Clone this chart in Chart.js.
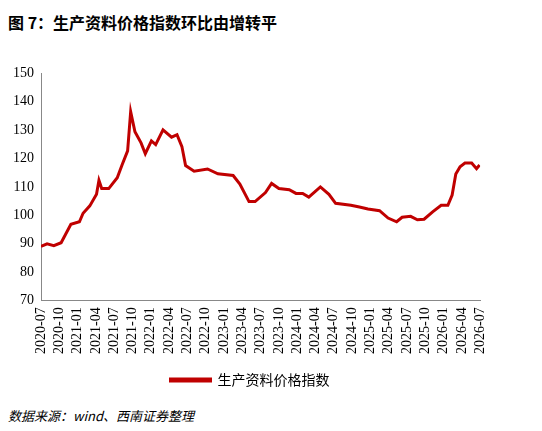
<!DOCTYPE html><html><head><meta charset="utf-8">
<script src="https://cdn.jsdelivr.net/npm/chart.js@4"></script>
<style>body{margin:0;width:542px;height:431px;background:#fff;position:relative;font-family:"Noto Sans CJK SC";}
#t{position:absolute;left:8px;top:10px;font-size:16px;font-weight:bold;}
#s{position:absolute;left:8px;top:406px;font-size:13px;font-style:italic;}
#c{position:absolute;left:0;top:62px;width:500px;height:335px;}</style></head><body>
<div id="t">图 7：生产资料价格指数环比由增转平</div>
<div id="c"><canvas id="cv"></canvas></div>
<div id="s">数据来源：wind、西南证券整理</div>
<script>
const seriesName="生产资料价格指数";
const monthOffsets=[0,1,2.1,3.3,4.9,6.3,6.9,8,9.1,9.5,9.95,11.1,12.5,13.3,14.2,14.7,15.4,16.4,17.1,18.1,18.8,20,21.4,22.3,23.1,23.7,25.1,27.3,29,31.5,32.6,34.1,35.1,36.8,37.8,39,40.7,41.8,42.9,43.9,45.8,47.2,48.3,50.8,52.2,53.6,55.5,56.9,58.3,59.2,60.6,61.7,62.8,64.2,65.6,66.7,67.4,68,68.7,69.5,70.6,71.4,71.9];
const values=[89,89.9,89.3,90.3,96.8,97.7,100.7,103.3,107.4,112.3,109.4,109.4,113.2,117.8,122.7,136.5,129.4,125.5,121.7,126.2,124.9,130.1,127.5,128.4,124.2,117.5,115.5,116.3,114.6,114,111,104.8,104.8,108,111.2,109.4,109,107.7,107.7,106.4,110,107.4,104.2,103.5,102.9,102.2,101.6,99,97.7,99.3,99.6,98.4,98.6,101.2,103.5,103.5,107.1,114.5,117.1,118.4,118.4,116.4,117.7];
const tickLabels=["2020-07","2020-10","2021-01","2021-04","2021-07","2021-10","2022-01","2022-04","2022-07","2022-10","2023-01","2023-04","2023-07","2023-10","2024-01","2024-04","2024-07","2024-10","2025-01","2025-04","2025-07","2025-10","2026-01","2026-04","2026-07"];
const pts=monthOffsets.map((m,i)=>({x:m,y:values[i]}));
new Chart(document.getElementById('cv'),{type:'line',
data:{datasets:[{label:seriesName,data:pts,borderColor:'#c00000',backgroundColor:'#c00000',borderWidth:3,pointRadius:0,tension:0}]},
options:{responsive:true,maintainAspectRatio:false,animation:false,
layout:{padding:{left:10,right:10,top:10}},
plugins:{legend:{position:'bottom',labels:{boxWidth:40,boxHeight:2,padding:16,color:'#000',font:{family:'Noto Sans CJK SC',size:14}}},tooltip:{enabled:false}},
scales:{x:{type:'linear',min:0,max:72,afterBuildTicks:a=>{a.ticks=tickLabels.map((_,i)=>({value:i*3}));},
ticks:{autoSkip:false,maxRotation:90,minRotation:90,color:'#000',font:{family:'Liberation Serif',size:14},callback:(v)=>tickLabels[v/3]},
grid:{display:false,drawTicks:true,tickLength:4},border:{color:'#888'}},
y:{min:70,max:150,ticks:{stepSize:10,color:'#000',font:{family:'Liberation Serif',size:14}},grid:{display:false,tickLength:4},border:{color:'#888'}}}}});
</script></body></html>
